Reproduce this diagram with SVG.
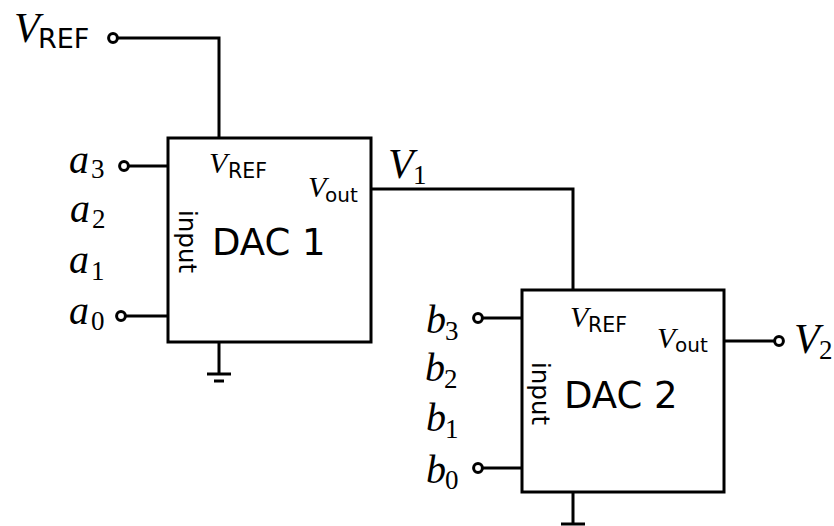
<svg xmlns="http://www.w3.org/2000/svg" width="834" height="526" viewBox="0 0 834 526">
<style>
.w{fill:none;stroke:#000;stroke-width:3;stroke-linejoin:miter}
.t{fill:#fff;stroke:#000;stroke-width:3}
.box{fill:#fff;stroke:#000;stroke-width:3}
.m{font-family:"Liberation Serif",serif;font-style:italic;fill:#000}
.s{font-family:"DejaVu Sans",sans-serif;fill:#000}
.n{font-family:"Liberation Serif",serif;fill:#000}
</style>
<rect width="834" height="526" fill="#fff"/>
<g id="connectors">
<path class="w" d="M117 38H219V138"/>
<path class="w" d="M128 166H168"/>
<path class="w" d="M125 316H168"/>
<path class="w" d="M371 189H573V290"/>
<path class="w" d="M482 318H522"/>
<path class="w" d="M482 468H522"/>
<path class="w" d="M724 341H777"/>
<path class="w" d="M219 342V374M207 374H231M214 381H224"/>
<path class="w" d="M573 492V524M561 524H585"/>
</g>
<g id="dac1">
<rect class="box" x="168" y="138" width="203" height="204"/>
<text x="209" y="173" class="m" font-size="30">V</text><text x="228" y="178" class="s" font-size="20.5">REF</text>
<text x="308" y="197" class="m" font-size="30">V</text><text x="325" y="202" class="s" font-size="20">out</text>
<text x="212" y="255" class="s" font-size="37">DAC 1</text>
<text transform="translate(179,210) rotate(90)" class="s" font-size="24.5">input</text>
</g>
<g id="dac2">
<rect class="box" x="522" y="290" width="202" height="202"/>
<text x="570" y="327" class="m" font-size="30">V</text><text x="588" y="332" class="s" font-size="20.5">REF</text>
<text x="657" y="348" class="m" font-size="30">V</text><text x="675" y="352" class="s" font-size="20">out</text>
<text x="564" y="408" class="s" font-size="37">DAC 2</text>
<text transform="translate(532,362) rotate(90)" class="s" font-size="24.5">input</text>
</g>
<g id="term-vref"><circle class="t" cx="113" cy="38" r="4.4"/><text x="14" y="42" class="m" font-size="42">V</text><text x="38" y="48" class="s" font-size="27">REF</text></g>
<g id="term-a3"><circle class="t" cx="124" cy="166" r="4.4"/><text x="69" y="173" class="m" font-size="40">a</text><text x="91" y="178" class="n" font-size="27">3</text></g>
<g id="label-a2"><text x="70" y="222" class="m" font-size="40">a</text><text x="92" y="228" class="n" font-size="27">2</text></g>
<g id="label-a1"><text x="69" y="273" class="m" font-size="40">a</text><text x="91" y="280" class="n" font-size="27">1</text></g>
<g id="term-a0"><circle class="t" cx="121" cy="316" r="4.4"/><text x="69" y="324" class="m" font-size="40">a</text><text x="91" y="330" class="n" font-size="27">0</text></g>
<g id="label-v1"><text x="388" y="178" class="m" font-size="42">V</text><text x="413" y="184" class="n" font-size="27">1</text></g>
<g id="term-b3"><circle class="t" cx="478" cy="318" r="4.4"/><text x="426" y="333" class="m" font-size="40">b</text><text x="445" y="340" class="n" font-size="27">3</text></g>
<g id="label-b2"><text x="425" y="381" class="m" font-size="40">b</text><text x="444" y="388" class="n" font-size="27">2</text></g>
<g id="label-b1"><text x="426" y="431" class="m" font-size="40">b</text><text x="445" y="438" class="n" font-size="27">1</text></g>
<g id="term-b0"><circle class="t" cx="478" cy="468" r="4.4"/><text x="426" y="483" class="m" font-size="40">b</text><text x="445" y="489" class="n" font-size="27">0</text></g>
<g id="term-v2"><circle class="t" cx="779" cy="341" r="4.4"/><text x="794" y="353" class="m" font-size="42">V</text><text x="819" y="359" class="n" font-size="27">2</text></g>
</svg>
